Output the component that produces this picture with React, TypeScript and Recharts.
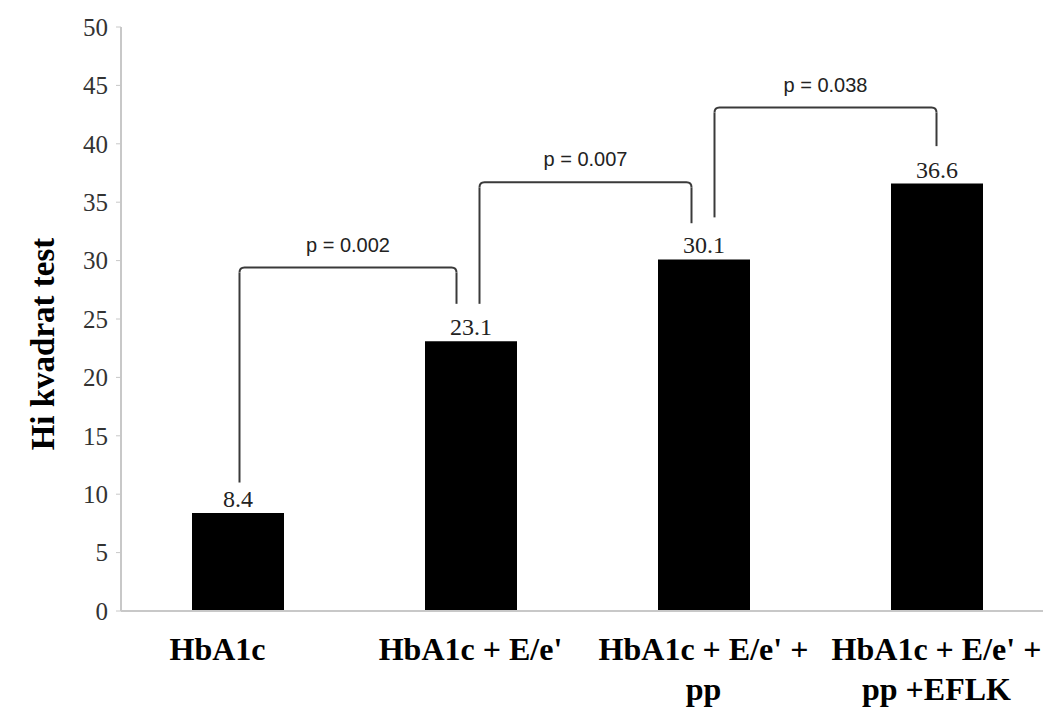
import React from 'react'
import {
  BarChart,
  Bar,
  XAxis,
  YAxis,
  LabelList,
  ReferenceLine,
} from 'recharts'

const categories = ['HbA1c', "HbA1c + E/e'", "HbA1c + E/e' + pp", "HbA1c + E/e' + pp +EFLK"]
const values = [8.4, 23.1, 30.1, 36.6]
const yTicks = [0, 5, 10, 15, 20, 25, 30, 35, 40, 45, 50]

// comparisons between neighbouring bars
const pLabels = ['p = 0.002', 'p = 0.007', 'p = 0.038']
const bracketTops = [29.4, 36.7, 43.1]
const bracketLeftEnds = [11.0, 26.3, 33.7]
const bracketRightEnds = [26.3, 33.2, 39.8]

const data = categories.map((name, i) => ({ name, value: values[i] }))

// small pixel nudges so neighbouring brackets don't share a vertical
const bracketNudge = [
  [2, -14],
  [9, -12],
  [11, 0],
]

const SERIF = '"Liberation Serif", "Times New Roman", serif'
const SANS = '"Liberation Sans", Arial, sans-serif'
const BRACKET = '#3a3a3a'
const AXIS = '#c8c8c8'

// break a label after ~15 characters, at a space
const wrap = (s: string, max = 15) => {
  if (s.length <= max) return [s]
  const cut = s.lastIndexOf(' ', max)
  return [s.slice(0, cut), s.slice(cut + 1)]
}

const hLine = (dx1: number, dx2: number, text: string) => (props: any) => {
  const { x1, x2, y1 } = props
  const a = x1 + dx1
  const b = x2 + dx2
  const r = 5
  return (
    <g>
      <path
        d={`M${a},${y1 + r} Q${a},${y1} ${a + r},${y1} L${b - r},${y1} Q${b},${y1} ${b},${y1 + r}`}
        fill="none"
        stroke={BRACKET}
        strokeWidth={2}
      />
      <text
        x={(a + b) / 2}
        y={y1 - 16}
        textAnchor="middle"
        fontFamily={SANS}
        fontSize={20}
        fill="#222"
      >
        {text}
      </text>
    </g>
  )
}

const vLine = (dx: number) => (props: any) => {
  const { x1, y1, y2 } = props
  const top = Math.min(y1, y2) + 5
  const bottom = Math.max(y1, y2)
  return <line x1={x1 + dx} x2={x1 + dx} y1={top} y2={bottom} stroke={BRACKET} strokeWidth={2} />
}

const CategoryTick = (props: any) => {
  const { x, y, payload, index } = props
  const dx = index === 0 ? -20 : 0
  const lines = wrap(payload.value)
  return (
    <text
      x={x + dx}
      y={y + 41}
      textAnchor="middle"
      fontFamily={SERIF}
      fontWeight="bold"
      fontSize={32}
      fill="#000"
    >
      {lines.map((l, i) => (
        <tspan key={i} x={x + dx} dy={i === 0 ? 0 : 40}>
          {l}
        </tspan>
      ))}
    </text>
  )
}

const YTitle = (props: any) => {
  const { viewBox } = props
  const cx = viewBox.x + 54
  const cy = viewBox.y + viewBox.height / 2 + 25
  return (
    <text
      x={cx}
      y={cy}
      transform={`rotate(-90, ${cx}, ${cy})`}
      textAnchor="middle"
      fontFamily={SERIF}
      fontWeight="bold"
      fontSize={33}
      fill="#000"
    >
      Hi kvadrat test
    </text>
  )
}

export default function App() {
  return (
    <div
      style={{
        position: 'absolute',
        left: 0,
        top: 0,
        width: 1043,
        height: 709,
        overflow: 'hidden',
        background: '#fff',
      }}
    >
      <BarChart
        width={1060}
        height={709}
        data={data}
        margin={{ top: 27, right: 7, bottom: 0, left: 0 }}
      >
        <XAxis
          dataKey="name"
          height={98}
          axisLine={{ stroke: AXIS, strokeWidth: 2 }}
          tickLine={false}
          tick={<CategoryTick />}
          interval={0}
        />
        <YAxis
          width={121}
          domain={[0, 50]}
          ticks={yTicks}
          interval={0}
          axisLine={{ stroke: AXIS, strokeWidth: 2 }}
          tickLine={{ stroke: AXIS }}
          tickSize={5}
          tickMargin={8}
          tick={{ fontFamily: SERIF, fontSize: 25, fill: '#333' }}
          label={<YTitle />}
        />
        <Bar dataKey="value" fill="#000" barSize={92} isAnimationActive={false}>
          <LabelList
            dataKey="value"
            position="top"
            offset={6}
            fontFamily={SERIF}
            fontSize={24}
            fill="#222"
          />
        </Bar>
        {pLabels.map((p, i) => (
          <ReferenceLine
            key={`h${i}`}
            segment={[
              { x: categories[i], y: bracketTops[i] },
              { x: categories[i + 1], y: bracketTops[i] },
            ]}
            shape={hLine(bracketNudge[i][0], bracketNudge[i][1], p)}
          />
        ))}
        {pLabels.map((p, i) => (
          <ReferenceLine
            key={`l${i}`}
            segment={[
              { x: categories[i], y: bracketTops[i] },
              { x: categories[i], y: bracketLeftEnds[i] },
            ]}
            shape={vLine(bracketNudge[i][0])}
          />
        ))}
        {pLabels.map((p, i) => (
          <ReferenceLine
            key={`r${i}`}
            segment={[
              { x: categories[i + 1], y: bracketTops[i] },
              { x: categories[i + 1], y: bracketRightEnds[i] },
            ]}
            shape={vLine(bracketNudge[i][1])}
          />
        ))}
      </BarChart>
    </div>
  )
}
